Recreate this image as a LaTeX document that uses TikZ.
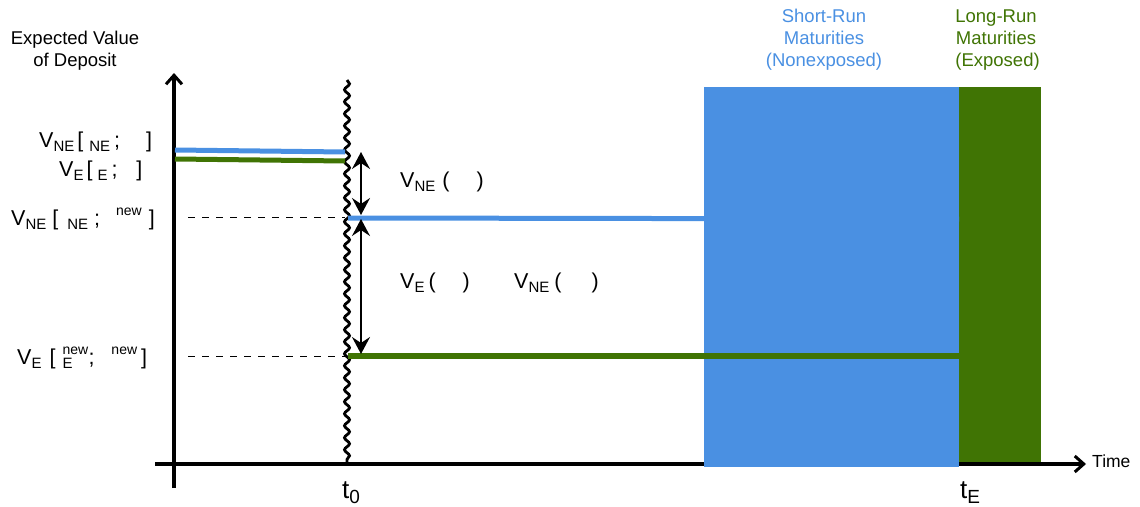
\documentclass[tikz,border=0pt]{standalone}
\usepackage{fontspec}
\setmainfont{Liberation Sans}
\usetikzlibrary{arrows.meta,decorations.pathmorphing}
\definecolor{sblue}{RGB}{74,144,226}
\definecolor{lgreen}{RGB}{64,116,4}
\newcommand{\lo}[1]{\raisebox{-0.22em}{\fontsize{15}{15}\selectfont #1}}
\newcommand{\hi}[1]{\raisebox{0.45em}{\fontsize{14}{14}\selectfont #1}}
\newcommand{\tsub}[1]{\raisebox{-5pt}{\fontsize{19}{19}\selectfont #1}}
\begin{document}
\begin{tikzpicture}[x=1pt,y=-1pt,
  lbl/.style={font=\fontsize{21.5}{24}\selectfont, inner sep=0pt},
  txt/.style={font=\fontsize{18.5}{22}\selectfont, inner sep=0pt, align=center},
  axis/.style={line width=3.5pt, -{Straight Barb[length=9pt,width=16pt,line width=3pt]}},
  dbl/.style={line width=2.2pt, {Stealth[length=17pt,width=18pt,inset=6pt]}-{Stealth[length=17pt,width=18pt,inset=6pt]}},
  lev/.style={line width=5pt},
  guide/.style={line width=0.8pt, dash pattern=on 7pt off 7pt}]
\useasboundingbox (0,0) rectangle (1140,506);
% axes
\coordinate (yb) at (174,488);
\coordinate (yt) at (174,73);
\coordinate (xl) at (155,464);
\coordinate (xr) at (1086,464);
\draw[axis] (yb) -- (yt);
\draw[axis] (xl) -- (xr);
% maturity boxes
\fill[sblue] (704,87) rectangle (959,467);
\fill[lgreen] (959,87) rectangle (1041,462);
% wavy line
\coordinate (wt) at (347,80);
\coordinate (wb) at (347,462);
\draw[line width=2.8pt, decorate, decoration={snake, amplitude=2.5pt, segment length=12pt}] (wt) -- (wb);
% levels
\coordinate (b0l) at (175,150); \coordinate (b0r) at (345,152);
\coordinate (g0l) at (175,159); \coordinate (g0r) at (345,161);
\coordinate (b1l) at (348,218); \coordinate (b1r) at (959,219);
\coordinate (g1l) at (348,356); \coordinate (g1r) at (959,356);
\draw[lev, sblue] (b0l) -- (b0r);
\draw[lev, lgreen] (g0l) -- (g0r);
\draw[lev, sblue] (b1l) -- (b1r);
\draw[lev, lgreen, line width=5.5pt] (g1l) -- (g1r);
% guides
\coordinate (d1l) at (188,217); \coordinate (d1r) at (345,217);
\coordinate (d2l) at (188,356); \coordinate (d2r) at (345,356);
\draw[guide] (d1l) -- (d1r);
\draw[guide] (d2l) -- (d2r);
% double arrows
\coordinate (a1t) at (361,152); \coordinate (a1b) at (361,215);
\coordinate (a2t) at (361,219); \coordinate (a2b) at (361,354);
\draw[dbl] (a1t) -- (a1b);
\draw[dbl] (a2t) -- (a2b);
% labels
\node[txt] (ylab) at (75,51) {Expected Value\\of Deposit};
\node[txt, text=sblue] (srlab) at (824,40) {Short-Run\\Maturities\\(Nonexposed)};
\node[txt, text=lgreen] (lrlab) at (996,40) {Long-Run\\Maturities\\\,(Exposed)};
\node[txt, anchor=base west, font=\fontsize{17.5}{20}\selectfont] (time) at (1092,467) {Time};
\node[lbl, anchor=base west, font=\fontsize{26}{28}\selectfont] (t0) at (342,498) {t\tsub{0}};
\node[lbl, anchor=base west, font=\fontsize{26}{28}\selectfont] (tE) at (960,498) {t\tsub{E}};
\node[lbl, anchor=base west] (l1) at (39,147) {V\lo{NE}\hspace{3pt}[\hspace{6pt}\lo{NE}\hspace{4pt};\hspace{26pt}]};
\node[lbl, anchor=base west] (l2) at (59,176) {V\lo{E}\hspace{3pt}[\hspace{5pt}\lo{E}\hspace{4pt};\hspace{19pt}]};
\node[lbl, anchor=base west] (l3) at (11,225) {V\lo{NE}\hspace{6pt}[\hspace{9pt}\lo{NE}\hspace{6pt};\hspace{16pt}\hi{new}\hspace{7pt}]};
\node[lbl, anchor=base west] (l4) at (17,364) {V\lo{E}\hspace{8pt}[\hspace{7pt}\rlap{\hi{new}}\lo{E}\hspace{16pt};\hspace{17pt}\hi{new}\hspace{4pt}]};
\node[lbl, anchor=base west] (m1) at (400,187) {V\lo{NE}\hspace{7pt}(\hspace{27pt})};
\node[lbl, anchor=base west] (m2) at (400,288) {V\lo{E}\hspace{4pt}(\hspace{27pt})};
\node[lbl, anchor=base west] (m3) at (514,288) {V\lo{NE}\hspace{5pt}(\hspace{30pt})};
\end{tikzpicture}
\end{document}
